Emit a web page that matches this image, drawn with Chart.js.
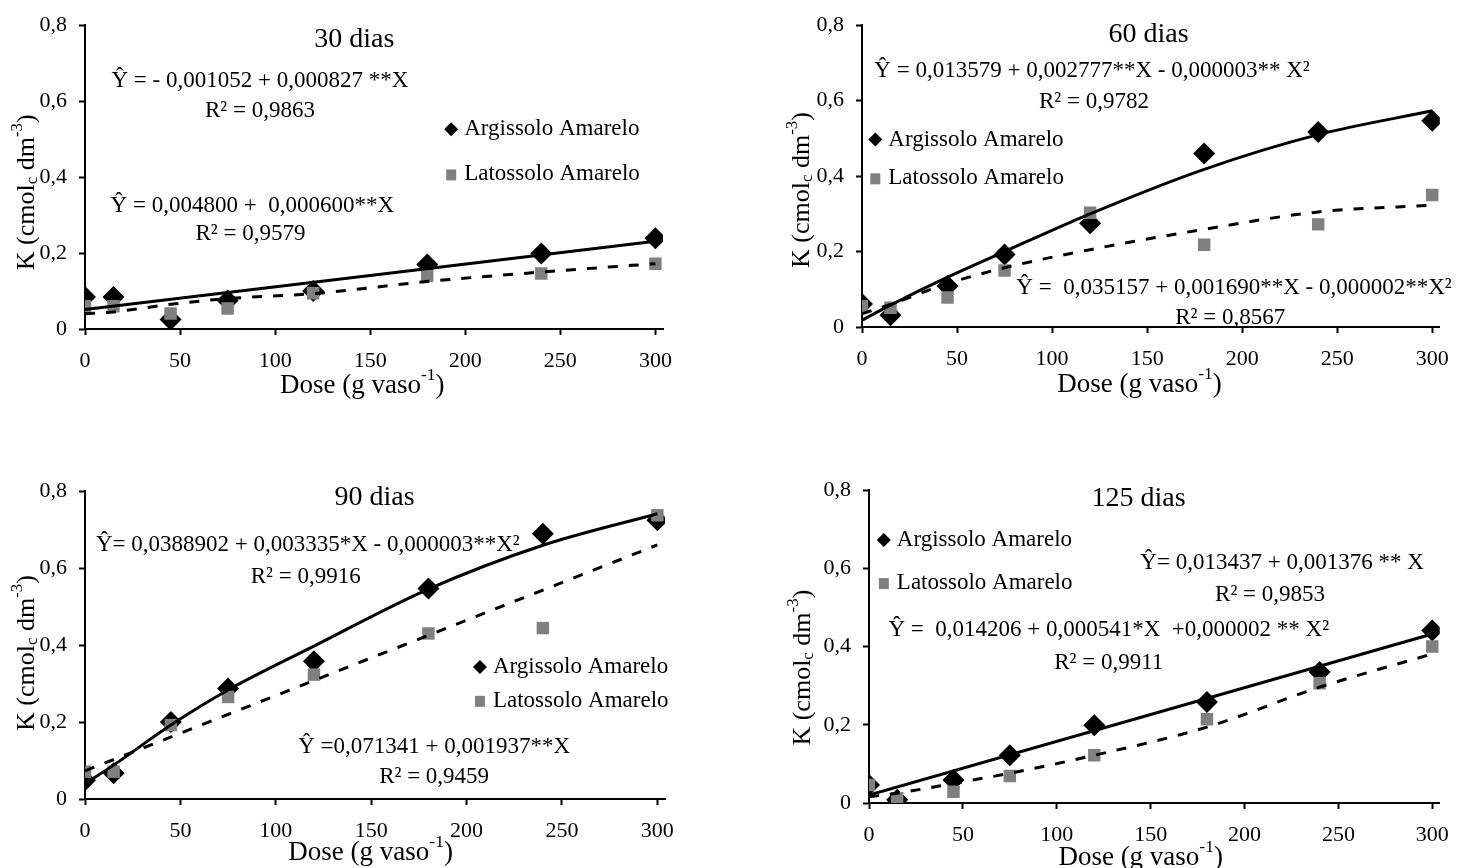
<!DOCTYPE html>
<html>
<head>
<meta charset="utf-8">
<script src="https://cdn.jsdelivr.net/npm/chart.js@4.4.0/dist/chart.umd.min.js"></script>
<style>
  html, body { margin: 0; padding: 0; background: #fff; }
  canvas { position: absolute; }
</style>
</head>
<body>
<canvas id="k30" width="731" height="434" style="left:0;top:0"></canvas>
<canvas id="k60" width="731" height="434" style="left:731px;top:0"></canvas>
<canvas id="k90" width="731" height="434" style="left:0;top:434px"></canvas>
<canvas id="k125" width="731" height="434" style="left:731px;top:434px"></canvas>
<script>
// doses (g vaso-1) and axis ticks
const doses = [0, 15, 45, 75, 120, 180, 240, 300];
const fitEnds = [0, 300];
const doseTicks = [0, 50, 100, 150, 200, 250, 300];
const kTicks = [0, 0.2, 0.4, 0.6, 0.8];

// 30 dias
const arg30 = [0.084, 0.084, 0.025, 0.075, 0.1, 0.17, 0.199, 0.239];
const lat30 = [0.06, 0.06, 0.041, 0.054, 0.094, 0.14, 0.146, 0.172];
const argFit30 = [0.051, 0.231];
const latFit30 = [0.04, 0.045, 0.065, 0.08, 0.093, 0.125, 0.15, 0.172];

// 60 dias
const arg60 = [0.061, 0.031, 0.109, 0.192, 0.275, 0.46, 0.517, 0.547];
const lat60 = [0.055, 0.051, 0.078, 0.15, 0.303, 0.218, 0.272, 0.35];
const argFit60 = [0.018, 0.058, 0.132, 0.2, 0.3, 0.418, 0.51, 0.573];
const latFit60 = [0.035, 0.06, 0.115, 0.157, 0.205, 0.259, 0.305, 0.323];

// 90 dias
const arg90 = [0.049, 0.067, 0.2, 0.287, 0.358, 0.547, 0.689, 0.724];
const lat90 = [0.071, 0.071, 0.192, 0.265, 0.323, 0.43, 0.444, 0.737];
const argFit90 = [0.04, 0.088, 0.192, 0.283, 0.397, 0.545, 0.659, 0.741];
const latFit90 = [0.073, 0.66];

// 125 dias
const arg125 = [0.046, 0.008, 0.059, 0.122, 0.199, 0.258, 0.335, 0.441];
const lat125 = [0.046, 0.012, 0.029, 0.069, 0.122, 0.214, 0.306, 0.4];
const argFit125 = [0.02, 0.432];
const latFit125 = [0.016, 0.025, 0.05, 0.076, 0.122, 0.194, 0.296, 0.381];

const serif = "'Liberation Serif', 'Times New Roman', serif";
Chart.defaults.font.family = serif;
Chart.defaults.font.size = 22;
Chart.defaults.color = "#000";

const toPoints = (xs, ys) => xs.map((x, i) => ({ x: x, y: ys[i] }));

// draws a run of text pieces, some of them sub/superscript
function drawRich(ctx, parts, x, y, size, align) {
  const widths = parts.map(([t, m]) => {
    ctx.font = (m ? size * 0.65 : size) + "px " + serif;
    return ctx.measureText(t).width;
  });
  const total = widths.reduce((a, b) => a + b, 0);
  let cx = align === "center" ? x - total / 2 : x;
  ctx.textAlign = "left";
  parts.forEach(([t, m], i) => {
    ctx.font = (m ? size * 0.65 : size) + "px " + serif;
    const dy = m === "sup" ? -size * 0.38 : m === "sub" ? size * 0.22 : 0;
    ctx.fillText(t, cx, y + dy);
    cx += widths[i];
  });
}

const panelText = {
  id: "panelText",
  afterDraw(chart, args, o) {
    const { ctx, chartArea } = chart;
    const sx = chart.scales.x, sy = chart.scales.y;
    const px = (v) => sx.getPixelForValue(v);
    const py = (v) => sy.getPixelForValue(v);
    ctx.save();
    ctx.fillStyle = "#000";
    ctx.textBaseline = "middle";

    ctx.font = "28px " + serif;
    ctx.textAlign = "center";
    ctx.fillText(o.title, px(o.titleAt[0]), py(o.titleAt[1]));

    ctx.font = "23px " + serif;
    o.notes.forEach((n) => {
      ctx.textAlign = "center";
      ctx.fillText(n.text, px(n.x), py(n.y));
    });

    // legend
    const lx = px(o.legend.x);
    const ya = py(o.legend.yA), yl = py(o.legend.yL);
    ctx.beginPath();
    ctx.moveTo(lx, ya - 7);
    ctx.lineTo(lx + 7, ya);
    ctx.lineTo(lx, ya + 7);
    ctx.lineTo(lx - 7, ya);
    ctx.closePath();
    ctx.fill();
    ctx.fillStyle = "#808080";
    ctx.fillRect(lx - 5, yl - 5, 10, 11);
    ctx.fillStyle = "#000";
    ctx.font = "23px " + serif;
    ctx.textAlign = "left";
    ctx.fillText("Argissolo Amarelo", lx + 13, ya);
    ctx.fillText("Latossolo Amarelo", lx + 13, yl);

    // axis titles
    drawRich(ctx, [["Dose (g vaso"], ["-1", "sup"], [")"]],
      px(o.xTitleAt), chartArea.bottom + o.xTitleDy, 27, "center");
    ctx.save();
    ctx.translate(chartArea.left - o.yTitleDx, py(o.yTitleAt));
    ctx.rotate(-Math.PI / 2);
    drawRich(ctx, [["K (cmol"], ["c", "sub"], [" dm"], ["-3", "sup"], [")"]], 0, 0, 26, "center");
    ctx.restore();
    ctx.restore();
  },
};

const panels = [
  {
    id: "k30", title: "30 dias", titleAt: [141.6, 0.762],
    arg: arg30, lat: lat30,
    argFit: toPoints(fitEnds, argFit30), latFit: toPoints(doses, latFit30),
    area: { left: 85, top: 21, right: 663, bottom: 329 },
    notes: [
      { x: 92, y: 0.654, text: "Ŷ = - 0,001052 + 0,000827 **X" },
      { x: 92, y: 0.573, text: "R² = 0,9863" },
      { x: 88, y: 0.324, text: "Ŷ = 0,004800 +  0,000600**X" },
      { x: 87, y: 0.249, text: "R² = 0,9579" },
    ],
    legend: { x: 192.6, yA: 0.526, yL: 0.407 },
    xTitleAt: 145.8, xTitleDy: 57, yTitleAt: 0.36, yTitleDx: 58,
  },
  {
    id: "k60", title: "60 dias", titleAt: [150.8, 0.776],
    arg: arg60, lat: lat60,
    argFit: toPoints(doses, argFit60), latFit: toPoints(doses, latFit60),
    area: { left: 131, top: 21, right: 712, bottom: 327 },
    notes: [
      { x: 121, y: 0.679, text: "Ŷ = 0,013579 + 0,002777**X - 0,000003** X²" },
      { x: 122, y: 0.597, text: "R² = 0,9782" },
      { x: 195.7, y: 0.104, text: "Ŷ =  0,035157 + 0,001690**X - 0,000002**X²" },
      { x: 193.7, y: 0.025, text: "R² = 0,8567" },
    ],
    legend: { x: 7, yA: 0.497, yL: 0.394 },
    xTitleAt: 146, xTitleDy: 58, yTitleAt: 0.363, yTitleDx: 60,
  },
  {
    id: "k90", title: "90 dias", titleAt: [151.8, 0.784],
    arg: arg90, lat: lat90,
    argFit: toPoints(doses, argFit90), latFit: toPoints(fitEnds, latFit90),
    area: { left: 85, top: 57, right: 665, bottom: 365 },
    notes: [
      { x: 116.8, y: 0.66, text: "Ŷ= 0,0388902 + 0,003335*X - 0,000003**X²" },
      { x: 115.7, y: 0.578, text: "R² = 0,9916" },
      { x: 183, y: 0.136, text: "Ŷ =0,071341 + 0,001937**X" },
      { x: 183, y: 0.058, text: "R² = 0,9459" },
    ],
    legend: { x: 207, yA: 0.343, yL: 0.255 },
    xTitleAt: 149.7, xTitleDy: 54, yTitleAt: 0.379, yTitleDx: 58,
  },
  {
    id: "k125", title: "125 dias", titleAt: [143.6, 0.777],
    arg: arg125, lat: lat125,
    argFit: toPoints(fitEnds, argFit125), latFit: toPoints(doses, latFit125),
    area: { left: 138, top: 56, right: 712, bottom: 369 },
    notes: [
      { x: 220, y: 0.613, text: "Ŷ= 0,013437 + 0,001376 ** X" },
      { x: 213.6, y: 0.532, text: "R² = 0,9853" },
      { x: 127.7, y: 0.442, text: "Ŷ =  0,014206 + 0,000541*X  +0,000002 ** X²" },
      { x: 127.7, y: 0.358, text: "R² = 0,9911" },
    ],
    legend: { x: 7.9, yA: 0.672, yL: 0.562 },
    xTitleAt: 144.7, xTitleDy: 55, yTitleAt: 0.346, yTitleDx: 66,
  },
];

const yAxisWidth = 60;

panels.forEach((p) => {
  const canvas = document.getElementById(p.id);
  const a = p.area;
  new Chart(canvas.getContext("2d"), {
    type: "scatter",
    data: {
      datasets: [
        {
          label: "Argissolo Amarelo",
          data: toPoints(doses, p.arg),
          pointStyle: "rectRot",
          pointRadius: 11,
          backgroundColor: "#000",
          borderColor: "#000",
          borderWidth: 0,
          order: 4,
        },
        {
          label: "Latossolo Amarelo",
          data: toPoints(doses, p.lat),
          pointStyle: "rect",
          pointRadius: 8.8,
          backgroundColor: "#808080",
          borderColor: "#808080",
          borderWidth: 0,
          order: 3,
        },
        {
          label: "Ajuste Argissolo",
          data: p.argFit,
          showLine: true,
          borderColor: "#000",
          borderWidth: 3,
          pointRadius: 0,
          cubicInterpolationMode: "monotone",
          order: 2,
        },
        {
          label: "Ajuste Latossolo",
          data: p.latFit,
          showLine: true,
          borderColor: "#000",
          borderWidth: 3,
          borderDash: [10, 11],
          pointRadius: 0,
          cubicInterpolationMode: "monotone",
          order: 1,
        },
      ],
    },
    options: {
      responsive: false,
      animation: false,
      events: [],
      layout: {
        padding: {
          left: a.left - yAxisWidth,
          top: a.top,
          right: canvas.width - a.right,
          bottom: 0,
        },
      },
      scales: {
        x: {
          type: "linear",
          min: 0,
          max: 304,
          afterBuildTicks: (s) => { s.ticks = doseTicks.map((v) => ({ value: v })); },
          afterFit: (s) => { s.height = canvas.height - a.bottom; },
          grid: { drawOnChartArea: false, drawTicks: true, tickLength: 6, tickWidth: 2, tickColor: "#000" },
          border: { color: "#000", width: 2 },
          ticks: { padding: 13, maxRotation: 0, autoSkip: false, color: "#000" },
        },
        y: {
          min: 0,
          max: 0.8,
          afterBuildTicks: (s) => { s.ticks = kTicks.map((v) => ({ value: v })); },
          afterFit: (s) => { s.width = yAxisWidth; },
          grid: { drawOnChartArea: false, drawTicks: true, tickLength: 6, tickWidth: 2, tickColor: "#000" },
          border: { color: "#000", width: 2 },
          ticks: {
            padding: 12,
            color: "#000",
            callback: (v) => (v === 0 ? "0" : v.toFixed(1).replace(".", ",")),
          },
        },
      },
      plugins: {
        legend: { display: false },
        tooltip: { enabled: false },
        panelText: p,
      },
    },
    plugins: [panelText],
  });
});
</script>
</body>
</html>
